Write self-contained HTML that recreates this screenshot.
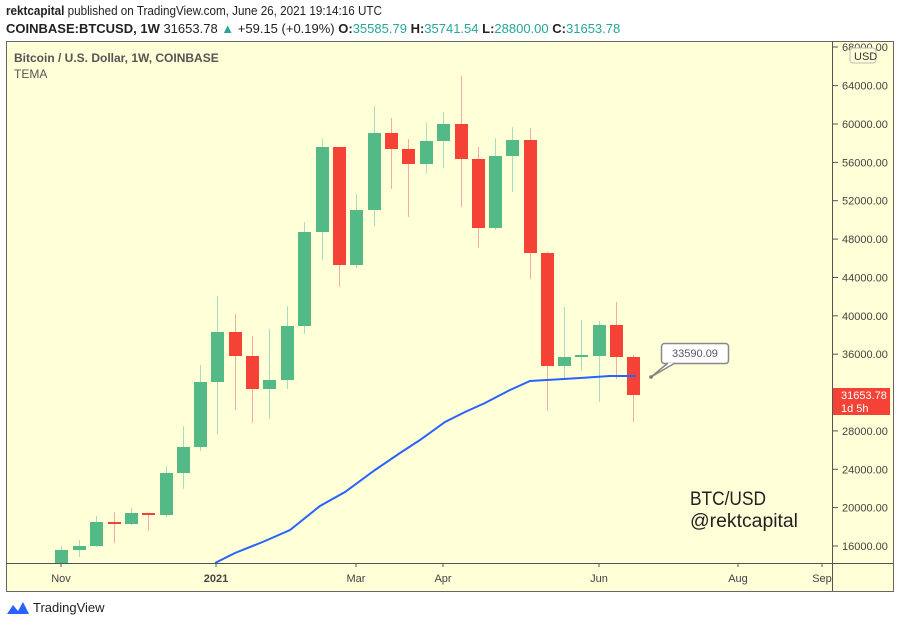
<!DOCTYPE html>
<html><head><meta charset="utf-8"><style>
body{margin:0;background:#fff;width:900px;height:626px;overflow:hidden;font-family:"Liberation Sans",sans-serif}
svg{position:absolute;left:0;top:0}
</style></head><body>
<svg width="900" height="626" viewBox="0 0 900 626" font-family="Liberation Sans, sans-serif">
<text x="6" y="15" font-size="13" fill="#222" textLength="376" lengthAdjust="spacingAndGlyphs"><tspan font-weight="bold">rektcapital</tspan> published on TradingView.com, June 26, 2021 19:14:16 UTC</text>
<text x="6" y="33" font-size="13" fill="#222"><tspan font-weight="bold">COINBASE:BTCUSD, 1W</tspan> 31653.78 <tspan fill="#26a69a">▲</tspan> +59.15 (+0.19%) <tspan font-weight="bold">O:</tspan><tspan fill="#26a69a">35585.79</tspan> <tspan font-weight="bold">H:</tspan><tspan fill="#26a69a">35741.54</tspan> <tspan font-weight="bold">L:</tspan><tspan fill="#26a69a">28800.00</tspan> <tspan font-weight="bold">C:</tspan><tspan fill="#26a69a">31653.78</tspan></text>
<rect x="6.5" y="41.5" width="887" height="550" fill="#ffffd8" stroke="#666"/>
<line x1="832.5" y1="41" x2="832.5" y2="591" stroke="#555"/>
<line x1="6" y1="563.5" x2="893" y2="563.5" stroke="#555"/>
<text x="14" y="62" font-size="12" fill="#555" font-weight="bold">Bitcoin / U.S. Dollar, 1W, COINBASE</text>
<text x="14" y="78" font-size="12" fill="#555">TEMA</text>
<g font-size="11" fill="#444">
<g stroke="#555"><line x1="833" y1="47" x2="838" y2="47"/><line x1="833" y1="85.6" x2="838" y2="85.6"/><line x1="833" y1="124" x2="838" y2="124"/><line x1="833" y1="162.4" x2="838" y2="162.4"/><line x1="833" y1="200.7" x2="838" y2="200.7"/><line x1="833" y1="239.1" x2="838" y2="239.1"/><line x1="833" y1="277.5" x2="838" y2="277.5"/><line x1="833" y1="315.8" x2="838" y2="315.8"/><line x1="833" y1="354.2" x2="838" y2="354.2"/><line x1="833" y1="430.9" x2="838" y2="430.9"/><line x1="833" y1="469.3" x2="838" y2="469.3"/><line x1="833" y1="507.6" x2="838" y2="507.6"/><line x1="833" y1="546" x2="838" y2="546"/></g>
<text x="842" y="51">68000.00</text><text x="842" y="89.6">64000.00</text><text x="842" y="128">60000.00</text><text x="842" y="166.4">56000.00</text><text x="842" y="204.7">52000.00</text><text x="842" y="243.1">48000.00</text><text x="842" y="281.5">44000.00</text><text x="842" y="319.8">40000.00</text><text x="842" y="358.2">36000.00</text><text x="842" y="434.9">28000.00</text><text x="842" y="473.3">24000.00</text><text x="842" y="511.6">20000.00</text><text x="842" y="550">16000.00</text>
</g>
<rect x="850" y="48" width="26" height="15" rx="3" fill="#ffffd8" stroke="#bbb"/>
<text x="854" y="60" font-size="11" fill="#333">USD</text>
<rect x="833" y="388" width="57" height="27" fill="#f44336"/>
<text x="841" y="399" font-size="11" fill="#fff">31653.78</text>
<text x="841" y="412" font-size="11" fill="#fff">1d 5h</text>
<g font-size="11" fill="#444" text-anchor="middle">
<g stroke="#555"><line x1="61" y1="563" x2="61" y2="567"/><line x1="216" y1="563" x2="216" y2="567"/><line x1="356" y1="563" x2="356" y2="567"/><line x1="443" y1="563" x2="443" y2="567"/><line x1="599" y1="563" x2="599" y2="567"/><line x1="738" y1="563" x2="738" y2="567"/><line x1="822" y1="563" x2="822" y2="567"/></g>
<text x="61" y="582">Nov</text><text x="216" y="582" font-weight="bold">2021</text><text x="356" y="582">Mar</text><text x="443" y="582">Apr</text><text x="599" y="582">Jun</text><text x="738" y="582">Aug</text><text x="822" y="582">Sep</text>
</g>
<g id="c"></g>
<polyline fill="none" stroke="#2962ff" stroke-width="2" points="215,563 235,553 265,541 290,530 320,506 345,492 375,470 400,453 420,440 445,422 465,412 485,403 510,390 530,381 547,380 580,378 610,376 636,376"/>
<rect x="661.5" y="343.5" width="67" height="20" rx="3" fill="#fff" stroke="#888" stroke-width="1.5"/>
<polyline points="668,363 651,377 675,363" fill="#fff" stroke="#888" stroke-width="1.5"/>
<circle cx="651" cy="377" r="1.8" fill="#777"/>
<text x="695" y="357" font-size="11" fill="#556" text-anchor="middle">33590.09</text>
<text x="690" y="505" font-size="19" fill="#222" textLength="76" lengthAdjust="spacingAndGlyphs">BTC/USD</text>
<text x="690" y="527" font-size="19" fill="#222" textLength="108" lengthAdjust="spacingAndGlyphs">@rektcapital</text>
<g transform="translate(7,600)"><path d="M0,14 L6,5 L11,11 L16,2 L22,14 Z" fill="#2962ff"/></g>
<text x="33" y="612" font-size="13" fill="#222">TradingView</text>
</svg>
<script>
var d=[[61,550,563,546,563,1],[79,546,550,540,557,1],[96,522,546,516,547,1],[114,522,524,512,543,0],[131,513,524,508,525,1],[148,513,515,513,531,0],[166,473,515,466,517,1],[183,447,473,426,489,1],[200,382,447,365,451,1],[217,332,382,296,434,1],[235,332,356,314,410,0],[252,356,389,336,423,0],[269,380,389,329,419,1],[287,326,380,306,389,1],[304,232,326,222,334,1],[322,147,232,139,260,1],[339,147,265,147,287,0],[356,210,265,194,268,1],[374,133,210,106,226,1],[391,133,149,118,189,0],[408,149,164,139,217,0],[426,141,164,123,173,1],[443,124,141,112,168,1],[461,124,159,76,207,0],[478,159,228,147,248,0],[495,156,228,138,230,1],[512,140,156,127,192,1],[530,140,253,128,279,0],[547,253,366,252,411,0],[564,357,366,307,378,1],[581,355,357,320,371,1],[599,325,356,321,402,1],[616,325,357,302,379,0],[633,357,395,355,422,0]];
var s='';d.forEach(function(c){var col=c[5]?'#53b987':'#f44336',wc=c[5]?'#a8dcc0':'#f7a9a7';var t=Math.min(c[1],c[2]),b=Math.max(c[1],c[2]);if(b-t<2)b=t+2;
s+='<line x1="'+(c[0]+.5)+'" y1="'+c[3]+'" x2="'+(c[0]+.5)+'" y2="'+Math.min(c[4],563)+'" stroke="'+wc+'"/>';
s+='<rect x="'+(c[0]-6)+'" y="'+t+'" width="13" height="'+(Math.min(b,563)-t)+'" fill="'+col+'"/>';});
document.getElementById('c').innerHTML=s;
</script>
</body></html>
